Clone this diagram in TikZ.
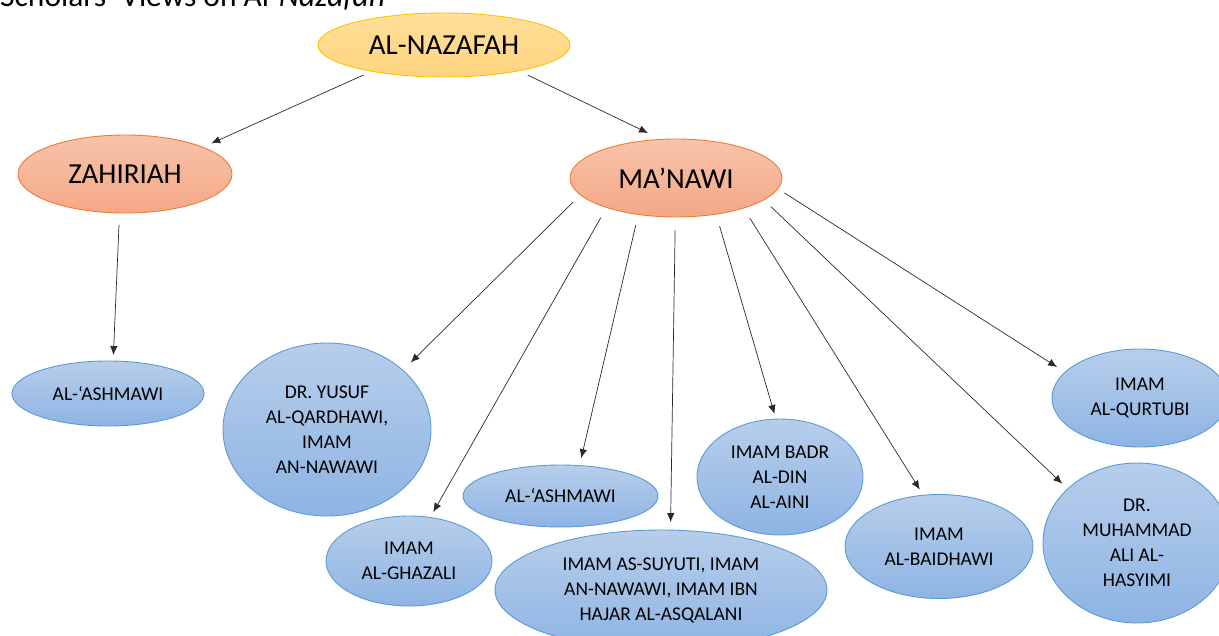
\documentclass[tikz,border=0pt]{standalone}
\usepackage{fontspec}
\setmainfont{Carlito}
\usetikzlibrary{shapes.geometric,arrows.meta}
\definecolor{bluetop}{HTML}{B7CEEB}
\definecolor{bluebot}{HTML}{8EB4E3}
\definecolor{blueline}{HTML}{5B9BD5}
\definecolor{orgtop}{HTML}{F8C3AA}
\definecolor{orgbot}{HTML}{F4A886}
\definecolor{orgline}{HTML}{ED7D31}
\definecolor{yeltop}{HTML}{FFDF9A}
\definecolor{yelbot}{HTML}{FFD47F}
\definecolor{yelline}{HTML}{FFC000}
\definecolor{arrowgray}{HTML}{2A2A2A}
\begin{document}
\begin{tikzpicture}[x=1pt,y=-1pt,
  sz/.style 2 args={minimum width=#1pt, minimum height=#2pt},
  oval/.style={ellipse, inner sep=0pt, outer sep=0pt, align=center, line width=0.9pt, text=black},
  scholar/.style={oval, draw=blueline, top color=bluetop, bottom color=bluebot, font=\fontsize{19.5}{25}\selectfont},
  branch/.style={oval, draw=orgline, top color=orgtop, bottom color=orgbot, font=\fontsize{29}{32}\selectfont},
  root/.style={oval, draw=yelline, top color=yeltop, bottom color=yelbot, font=\fontsize{29}{32}\selectfont},
  link/.style={draw=arrowgray, line width=0.7pt, -{Latex[length=9pt,width=7.5pt]}}
]
\useasboundingbox (0,0) rectangle (1219,635);
\clip (0,0) rectangle (1219,635);

\node[anchor=base west, inner sep=0pt, font=\fontsize{31.5}{34}\selectfont] (title) at (0,6) {Scholars’ Views on Al-\textit{Nazafah}};

\node[root, sz={252}{64}] (naz) at (444,45) {AL-NAZAFAH};
\node[branch, sz={214}{78}] (zah) at (125,174) {ZAHIRIAH};
\node[branch, sz={212}{78}] (man) at (676,178) {MA’NAWI};

\node[scholar, sz={192}{65}] (ash) at (108,393.5) {AL-‘ASHMAWI};
\node[scholar, sz={208}{173}] (yus) at (327,429.5) {DR. YUSUF\\AL-QARDHAWI,\\IMAM\\AN-NAWAWI};
\node[scholar, sz={166}{90}] (gha) at (409,561) {IMAM\\AL-GHAZALI};
\node[scholar, sz={195}{62}] (asm) at (560.5,496) {AL-‘ASHMAWI};
\node[scholar, sz={332}{120}] (suy) at (661,590) {IMAM AS-SUYUTI, IMAM\\AN-NAWAWI, IMAM IBN\\HAJAR AL-ASQALANI};
\node[scholar, sz={166}{116}] (bad) at (780,477) {IMAM BADR\\AL-DIN\\AL-AINI};
\node[scholar, sz={188}{104}] (bai) at (939,546.5) {IMAM\\AL-BAIDHAWI};
\node[scholar, sz={176}{98}] (qur) at (1140,398) {IMAM\\AL-QURTUBI};
\node[scholar, sz={188}{160}] (muh) at (1137,543) {DR.\\MUHAMMAD\\ALI AL-\\HASYIMI};

\draw[link, shorten <=9pt, shorten >=9.3pt] (naz.200.5) -- (zah.19.6);
\draw[link, shorten <=10pt, shorten >=14.6pt] (naz.341.1) -- (man.111.1);
\draw[link, shorten <=12pt, shorten >=6pt] (zah.262.1) -- (ash.81.6);
\draw[link, shorten <=10.3pt, shorten >=11.1pt] (man.190) -- (yus.38.7);
\draw[link, shorten <=11.7pt, shorten >=6.3pt] (man.203.7) -- (gha.64.4);
\draw[link, shorten <=10.9pt, shorten >=7.7pt] (man.224.2) -- (asm.58.3);
\draw[link, shorten <=13pt, shorten >=8pt] (man.269.8) -- (suy.81.5);
\draw[link, shorten <=12.5pt, shorten >=5.3pt] (man.318.4) -- (bad.94.5);
\draw[link, shorten <=11.8pt, shorten >=6.7pt] (man.336.1) -- (bai.107);
\draw[link, shorten <=9.8pt, shorten >=7.5pt] (man.346.6) -- (muh.142.3);
\draw[link, shorten <=7.7pt, shorten >=9.6pt] (man.354.5) -- (qur.161);
\end{tikzpicture}
\end{document}
